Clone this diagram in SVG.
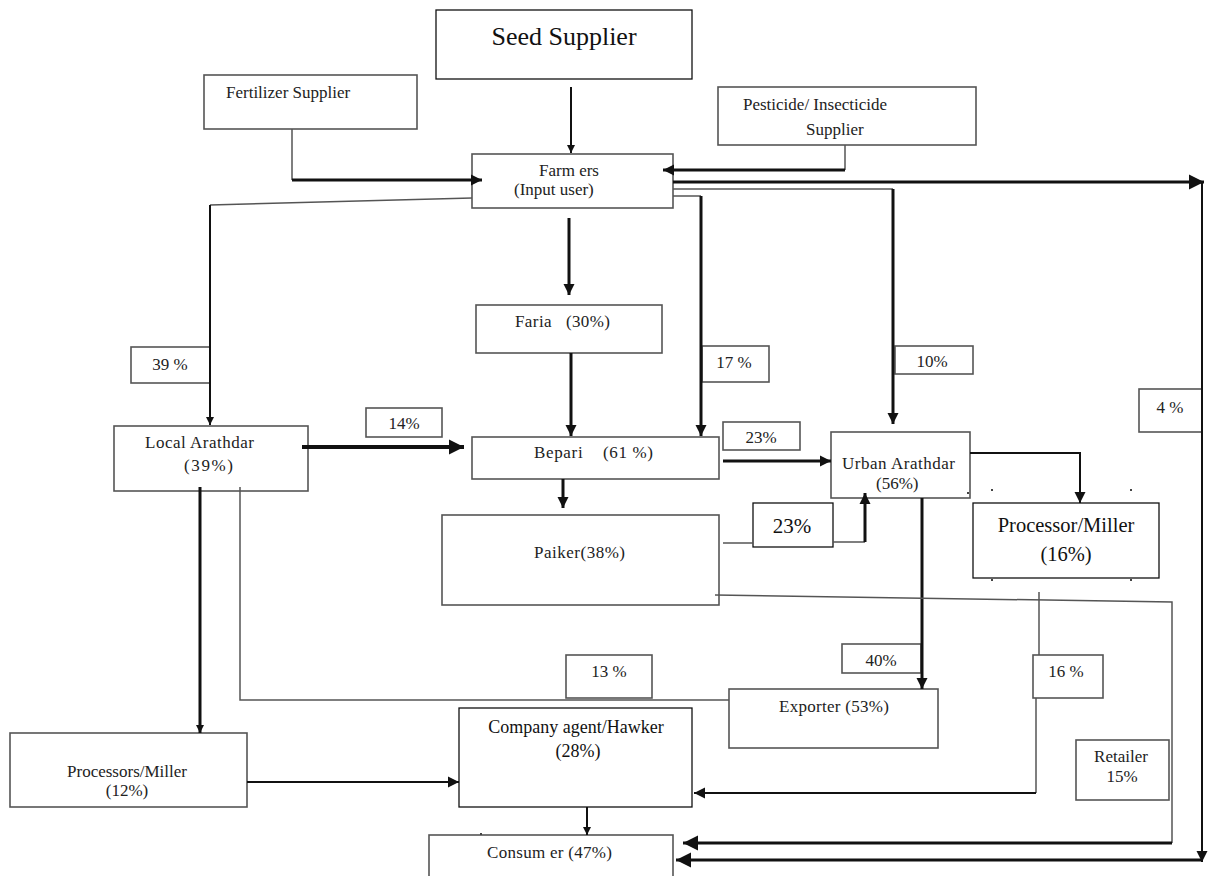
<svg xmlns="http://www.w3.org/2000/svg" width="1208" height="876" viewBox="0 0 1208 876">
<style>
.box{fill:#fff;stroke:#555;stroke-width:1.6}
.bk{fill:#fff;stroke:#111;stroke-width:1.3}
.t{font-family:"Liberation Serif","Times New Roman",serif;font-size:17px;fill:#222}
.tk{font-family:"Liberation Serif","Times New Roman",serif;fill:#111}
.m{text-anchor:middle}
.c1{stroke:#111;stroke-width:3;fill:none}
.c2{stroke:#111;stroke-width:2;fill:none}
.c3{stroke:#555;stroke-width:1.5;fill:none}
.c4{stroke:#111;stroke-width:4;fill:none}
</style>
<defs>
<marker id="as" viewBox="0 0 10 10" refX="10" refY="5" markerUnits="userSpaceOnUse" markerWidth="8" markerHeight="8" orient="auto"><path d="M0,0L10,5L0,10z" fill="#111"/></marker>
<marker id="am" viewBox="0 0 10 10" refX="10" refY="5" markerUnits="userSpaceOnUse" markerWidth="11" markerHeight="12" orient="auto"><path d="M0,0L10,5L0,10z" fill="#111"/></marker>
<marker id="al" viewBox="0 0 10 10" refX="10" refY="5" markerUnits="userSpaceOnUse" markerWidth="15" markerHeight="16" orient="auto"><path d="M0,0L10,5L0,10z" fill="#111"/></marker>
</defs>

<g id="seed-supplier"><rect class="bk" x="436" y="10" width="256" height="69"/><text class="tk m" x="564" y="45" font-size="26">Seed Supplier</text></g>
<g id="fertilizer-supplier"><rect class="box" x="204" y="75" width="213" height="54"/><text class="t" x="226" y="98">Fertilizer Supplier</text></g>
<g id="pesticide-supplier"><rect class="box" x="718" y="87" width="258" height="58"/><text class="t" x="743" y="110">Pesticide/ Insecticide</text><text class="t" x="806" y="135">Supplier</text></g>
<g id="farmers"><rect class="box" x="472" y="154" width="201" height="54"/><text class="t" x="539" y="176">Farm ers</text><text class="t" x="514" y="195">(Input user)</text></g>
<g id="faria"><rect class="box" x="476" y="305" width="186" height="48"/><text class="t" x="515" y="327" xml:space="preserve" textLength="95">Faria   (30%)</text></g>
<g id="local-arathdar"><rect class="box" x="114" y="426" width="194" height="65"/><text class="t" x="145" y="448" textLength="109">Local Arathdar</text><text class="t" x="184" y="471" textLength="49">(39%)</text></g>
<g id="bepari"><rect class="box" x="472" y="437" width="247" height="42"/><text class="t" x="534" y="458" xml:space="preserve" textLength="119">Bepari    (61 %)</text></g>
<g id="urban-arathdar"><rect class="box" x="831" y="432" width="139" height="66"/><text class="t" x="842" y="469" textLength="113">Urban Arathdar</text><text class="t" x="876" y="489">(56%)</text></g>
<g id="processor-miller-16"><rect class="bk" x="973" y="503" width="186" height="75"/><text class="tk m" x="1066" y="532" font-size="20.5">Processor/Miller</text><text class="tk m" x="1066" y="561" font-size="20.5">(16%)</text></g>
<g id="paiker"><rect class="box" x="442" y="515" width="277" height="90"/><text class="t" x="534" y="558" textLength="91">Paiker(38%)</text></g>
<g id="exporter"><rect class="box" x="729" y="689" width="209" height="59"/><text class="t" x="779" y="712" textLength="110">Exporter (53%)</text></g>
<g id="company-agent"><rect class="bk" x="459" y="708" width="233" height="99"/><text class="tk m" x="576" y="733" font-size="18">Company agent/Hawker</text><text class="tk m" x="578" y="757" font-size="18">(28%)</text></g>
<g id="processors-miller-12"><rect class="box" x="10" y="733" width="237" height="74"/><text class="t m" x="127" y="777">Processors/Miller</text><text class="t m" x="127" y="796">(12%)</text></g>
<g id="retailer"><rect class="box" x="1076" y="740" width="93" height="60"/><text class="t m" x="1121" y="762">Retailer</text><text class="t m" x="1122" y="782">15%</text></g>
<g id="consumer"><rect class="box" x="429" y="835" width="244" height="50"/><text class="t" x="487" y="858" textLength="125">Consum er (47%)</text></g>

<g id="label-39"><rect class="box" x="131" y="347" width="79" height="36"/><text class="t m" x="170" y="370">39 %</text></g>
<g id="label-17"><rect class="box" x="702" y="346" width="67" height="36"/><text class="t m" x="734" y="368">17 %</text></g>
<g id="label-10"><rect class="box" x="895" y="346" width="78" height="28"/><text class="t m" x="932" y="367">10%</text></g>
<g id="label-4"><rect class="box" x="1139" y="389" width="63" height="43"/><text class="t m" x="1170" y="413">4 %</text></g>
<g id="label-14"><rect class="box" x="366" y="408" width="76" height="29"/><text class="t m" x="404" y="429">14%</text></g>
<g id="label-23a"><rect class="box" x="723" y="422" width="77" height="28"/><text class="t m" x="761" y="443">23%</text></g>
<g id="label-23b"><rect class="bk" x="753" y="503" width="80" height="44"/><text class="tk m" x="792" y="533" font-size="21">23%</text></g>
<g id="label-40"><rect class="box" x="842" y="644" width="79" height="29"/><text class="t m" x="881" y="666">40%</text></g>
<g id="label-13"><rect class="box" x="566" y="655" width="86" height="43"/><text class="t m" x="609" y="677">13 %</text></g>
<g id="label-16"><rect class="box" x="1033" y="655" width="70" height="43"/><text class="t m" x="1066" y="677">16 %</text></g>

<g id="connectors">
<path class="c2" d="M571,87V153" marker-end="url(#as)"/>
<path class="c3" d="M292,129V180"/>
<path class="c1" d="M292,180H482" marker-end="url(#am)"/>
<path class="c3" d="M845,145V170"/>
<path class="c1" d="M845,170H663" marker-end="url(#am)"/>
<path class="c1" d="M673,182H1204" marker-end="url(#al)"/>
<path class="c3" d="M673,189H893"/>
<path class="c1" d="M893,189V424" marker-end="url(#am)"/>
<path class="c3" d="M673,196H701"/>
<path class="c1" d="M701,196V436" marker-end="url(#am)"/>
<path class="c3" d="M472,198L210,205"/>
<path class="c2" d="M210,205V425" marker-end="url(#as)"/>
<path class="c1" d="M569,218V295" marker-end="url(#am)"/>
<path class="c1" d="M571,353V436" marker-end="url(#am)"/>
<path class="c4" d="M302,447H464" marker-end="url(#al)"/>
<path class="c1" d="M563,479V508" marker-end="url(#am)"/>
<path class="c1" d="M723,461H831" marker-end="url(#am)"/>
<path class="c3" d="M723,543H753"/>
<path class="c3" d="M833,542H865"/>
<path class="c1" d="M865,542V493" marker-end="url(#am)"/>
<path class="c2" d="M970,453H1080V503" marker-end="url(#am)"/>
<path class="c1" d="M922,498V689" marker-end="url(#am)"/>
<path class="c1" d="M200,487V733" marker-end="url(#as)"/>
<path class="c3" d="M240,487V700H729"/>
<path class="c2" d="M247,782H459" marker-end="url(#am)"/>
<path class="c2" d="M587,807V835" marker-end="url(#as)"/>
<path class="c3" d="M1039,592V655"/>
<path class="c3" d="M1036,698V793"/>
<path class="c2" d="M1036,793H694" marker-end="url(#am)"/>
<path class="c3" d="M715,595L1172,602V843"/>
<path class="c1" d="M1172,843H683" marker-end="url(#al)"/>
<path class="c2" d="M1202,182V862" marker-end="url(#am)"/>
<path class="c1" d="M1202,860H676" marker-end="url(#al)"/>
</g>

<g id="marks" fill="#444">
<rect x="991" y="489" width="2" height="2"/><rect x="1130" y="489" width="2" height="2"/>
<rect x="991" y="579" width="2" height="2"/><rect x="1130" y="579" width="2" height="2"/>
<rect x="967" y="492" width="2" height="2"/><rect x="480" y="833" width="2" height="2"/>
</g>
</svg>
